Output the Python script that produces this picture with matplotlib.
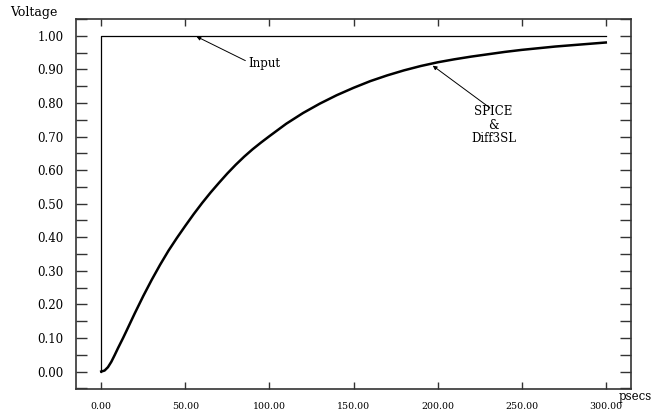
import matplotlib
matplotlib.use("Agg")
import matplotlib.pyplot as plt
from matplotlib.ticker import MultipleLocator, FormatStrFormatter

# ---- data ----
input_t = [0, 0, 300]
input_v = [0.0, 1.0, 1.0]

out_t = [0, 2, 4, 6, 8, 10, 13, 15, 20, 25, 30, 35, 40, 45, 50, 55, 60, 65, 70,
         75, 80, 85, 90, 95, 100, 110, 120, 130, 140, 150, 160, 170, 180, 190,
         200, 210, 220, 230, 240, 250, 260, 270, 280, 290, 300]
out_v = [0.0, 0.003, 0.013, 0.029, 0.049, 0.070, 0.100, 0.121, 0.174, 0.225,
         0.273, 0.318, 0.360, 0.398, 0.434, 0.469, 0.502, 0.533, 0.562,
         0.590, 0.616, 0.640, 0.662, 0.682, 0.701, 0.738, 0.770, 0.798,
         0.823, 0.845, 0.865, 0.882, 0.897, 0.910, 0.921, 0.930, 0.938,
         0.945, 0.952, 0.958, 0.963, 0.968, 0.972, 0.976, 0.980]

x_ticks = [0, 50, 100, 150, 200, 250, 300]
y_ticks = [0.0, 0.1, 0.2, 0.3, 0.4, 0.5, 0.6, 0.7, 0.8, 0.9, 1.0]

plt.rcParams['font.family'] = ['DejaVu Serif']

fig = plt.figure(figsize=(6.53, 4.11), dpi=100)
ax = fig.add_axes([76/653, 1 - 389/411, 555/653, 370/411])

ax.plot(input_t, input_v, color='black', lw=0.9)
ax.plot(out_t, out_v, color='black', lw=1.8, solid_joinstyle='round')

ax.set_xlim(-15, 315)
ax.set_ylim(-0.052, 1.05)

ax.set_xticks(x_ticks)
ax.set_yticks(y_ticks)
ax.yaxis.set_minor_locator(MultipleLocator(0.05))
ax.xaxis.set_major_formatter(FormatStrFormatter('%.2f'))
ax.yaxis.set_major_formatter(FormatStrFormatter('%.2f'))

ax.tick_params(axis='y', which='both', direction='in', left=True, right=True,
               length=8.2, width=1.0, color='#333333', labelsize=8.5, pad=9)
ax.tick_params(axis='x', which='major', direction='in', top=True, bottom=True,
               length=4.8, width=1.0, color='#333333', labelsize=6.8, pad=9)
ax.tick_params(axis='x', which='minor', bottom=False, top=False)

for s in ax.spines.values():
    s.set_color('#333333')
    s.set_linewidth(1.2)

# annotations
ax.annotate('', xy=(56.6, 0.998), xytext=(85.7, 0.926),
            arrowprops=dict(arrowstyle='-|>', lw=0.7, color='black',
                            mutation_scale=6, shrinkA=0, shrinkB=0))
ax.text(87.5, 0.918, 'Input', fontsize=8.5, ha='left', va='center')

ax.annotate('', xy=(197.1, 0.911), xytext=(231.2, 0.785),
            arrowprops=dict(arrowstyle='-|>', lw=0.7, color='black',
                            mutation_scale=6, shrinkA=0, shrinkB=0))
ax.text(233.3, 0.734, 'SPICE\n&\nDiff3SL', fontsize=8.5, ha='center',
        va='center', multialignment='center', linespacing=1.05)

fig.text(10/653, 1 - 16/411, 'Voltage', fontsize=9, ha='left', va='baseline')
fig.text(652/653, 1 - 396/411, 'psecs', fontsize=8.5, ha='right', va='center')

fig.savefig('out.png', dpi=100)
